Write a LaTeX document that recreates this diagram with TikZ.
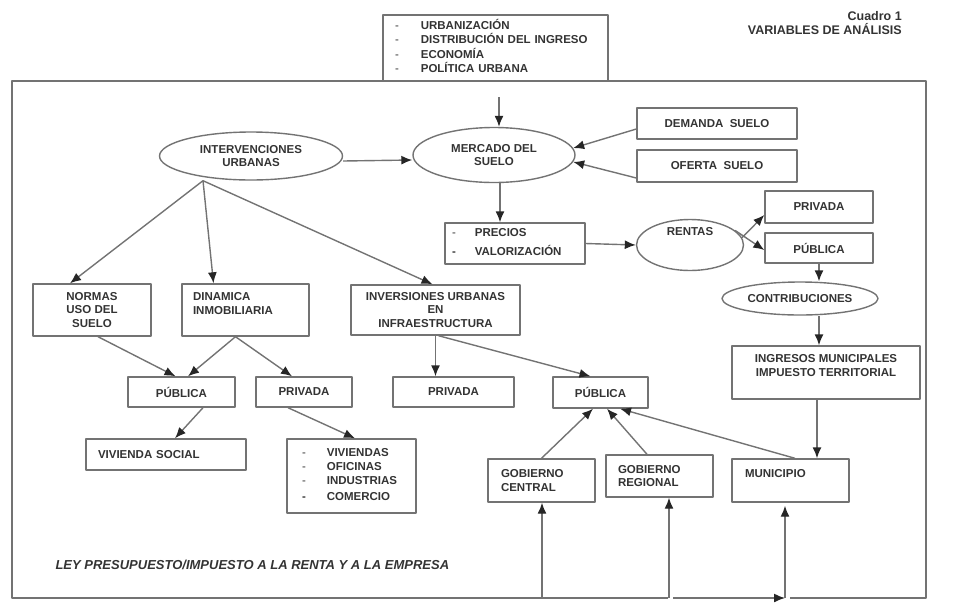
\documentclass[tikz,border=0pt]{standalone}
\usepackage{fontspec}
\setmainfont{Liberation Sans}
\usetikzlibrary{shapes.geometric,arrows.meta}
\begin{document}
\begin{tikzpicture}[x=1pt,y=-1pt,line join=round,
font=\fontsize{11.5}{13.7}\selectfont\bfseries,every node/.style={text=black!80},
linea/.style={draw=black!55,line width=1.4pt},
flecha/.style={linea,-{Latex[length=11pt,width=9pt,color=black!85]}},
caja/.style 2 args={linea,rectangle,minimum width=#1,minimum height=#2,inner sep=0pt,align=center},
ovalo/.style 2 args={linea,ellipse,minimum width=#1,minimum height=#2,inner sep=0pt,align=center},
izq/.style={text width=#1,align=left}]
\useasboundingbox (0,0) rectangle (961,606);
\node[anchor=east,inner sep=0pt,font=\fontsize{12.5}{15}\selectfont\bfseries] (cuadro) at (902,16) {Cuadro 1};
\node[anchor=east,inner sep=0pt,font=\fontsize{12.5}{15}\selectfont\bfseries] (titulo) at (902,29.5) {VARIABLES DE ANÁLISIS};
\draw[linea] (668,598) -- (12,598) -- (12,81) -- (926,81) -- (926,598) -- (790,598);
\path
(499,97) coordinate (entrada)
(673,598) coordinate (pie)
(542,598) coordinate (pieC)
(669,598) coordinate (pieR)
(785,598) coordinate (pieM);
\node[caja={225}{66},izq={201}] (factores) at (495.5,48) {\begin{tabular}{@{}l@{\hspace{22pt}}l@{}}\mdseries- & URBANIZACIÓN\\ \mdseries- & DISTRIBUCIÓN DEL INGRESO\\ \mdseries- & ECONOMÍA\\ \mdseries- & POLÍTICA URBANA\end{tabular}};
\node[ovalo={183}{48}] (interv) at (251,156) {INTERVENCIONES\\URBANAS};
\node[ovalo={162}{55}] (mercado) at (494,155) {MERCADO DEL\\SUELO};
\node[caja={160}{31}] (demanda) at (717,123.5) {DEMANDA\ \ SUELO};
\node[caja={160}{32}] (oferta) at (717,166) {OFERTA\ \ SUELO};
\node[caja={140}{41},izq={126}] (precios) at (515,243.5) {\begin{tabular}{@{}l@{\hspace{19pt}}l@{}}\mdseries- & PRECIOS\\[5pt] - & VALORIZACIÓN\end{tabular}};
\node[ovalo={107}{51}] (rentas) at (690,245) {\raisebox{10pt}[0pt][0pt]{RENTAS}};
\node[caja={108}{32}] (privR) at (819,207) {PRIVADA};
\node[caja={108}{30}] (pubR) at (819,248) {PÚBLICA};
\node[ovalo={156}{33}] (contrib) at (800,298.5) {CONTRIBUCIONES};
\node[caja={188}{53}] (ingresos) at (826,372.5) {INGRESOS MUNICIPALES\\IMPUESTO TERRITORIAL\\\mbox{}};
\node[caja={118}{52}] (normas) at (92,310) {NORMAS\\USO DEL\\SUELO};
\node[caja={127}{52},izq={105}] (dinamica) at (245.5,310) {DINAMICA\\INMOBILIARIA\\\mbox{}};
\node[caja={169}{50}] (inversion) at (435.5,310) {INVERSIONES URBANAS\\EN\\INFRAESTRUCTURA};
\node[caja={107}{30}] (pubA) at (181.5,392) {PÚBLICA};
\node[caja={96}{30}] (privA) at (304,392) {PRIVADA};
\node[caja={121}{30}] (privB) at (453.5,392) {PRIVADA};
\node[caja={95}{31}] (pubB) at (600.5,392.5) {PÚBLICA};
\node[caja={160}{31},izq={136}] (vivsoc) at (166,454.5) {VIVIENDA SOCIAL};
\node[caja={129}{74},izq={99}] (vivlist) at (351.5,476) {\begin{tabular}{@{}l@{\hspace{21pt}}l@{}}\mdseries- & VIVIENDAS\\ \mdseries- & OFICINAS\\ \mdseries- & INDUSTRIAS\\[3pt] - & COMERCIO\end{tabular}};
\node[caja={107}{43},izq={81}] (gobC) at (541.5,480.5) {GOBIERNO\\CENTRAL};
\node[caja={107}{42},izq={83}] (gobR) at (659.5,476) {GOBIERNO\\REGIONAL};
\node[caja={117}{43},izq={91}] (muni) at (790.5,480.5) {MUNICIPIO\\\mbox{}};
\node[anchor=west,font=\fontsize{13}{15}\selectfont\bfseries\itshape] (ley) at (52,565) {LEY PRESUPUESTO/IMPUESTO A LA RENTA Y A LA EMPRESA};
\coordinate (abanico) at ([xshift=-48pt]interv.south);
\draw[flecha] (entrada) -- (entrada |- mercado.north);
\draw[flecha] ([yshift=-5pt]interv.east) -- ([yshift=-5pt]mercado.west);
\draw[flecha] ([yshift=-5.5pt]demanda.west) -- (mercado.5);
\draw[flecha] ([yshift=-12pt]oferta.west) -- (mercado.-5);
\draw[flecha] ([xshift=6pt]mercado.south) -- ([xshift=-15pt]precios.north);
\draw[flecha] (precios.east) -- (rentas.west);
\draw[flecha] (rentas.8) -- ([yshift=-8pt]privR.west);
\draw[flecha] (rentas.18) -- ([yshift=-2pt]pubR.west);
\draw[flecha] (pubR.south) -- (pubR.south |- contrib.north);
\draw[flecha] (pubR.south |- contrib.south) -- (pubR.south |- ingresos.north);
\draw[flecha] ([xshift=-9pt]ingresos.south) -- ([xshift=26.5pt]muni.north);
\foreach \n/\s in {normas/-22,dinamica/-32,inversion/-3}
\draw[flecha] (abanico) -- ([xshift=\s pt]\n.north);
\draw[flecha] ([xshift=6pt]normas.south) -- ([xshift=-6pt]pubA.north);
\draw[flecha] ([xshift=-10pt]dinamica.south) -- ([xshift=6.5pt]pubA.north);
\draw[flecha] ([xshift=-10pt]dinamica.south) -- ([xshift=-12pt]privA.north);
\draw[flecha] (inversion.south) -- (inversion.south |- privB.north);
\draw[flecha] ([xshift=3pt]inversion.south) -- ([xshift=-10pt]pubB.north);
\draw[flecha] ([xshift=21.5pt]pubA.south) -- ([xshift=9pt]vivsoc.north);
\draw[flecha] ([xshift=-16pt]privA.south) -- ([xshift=3.5pt]vivlist.north);
\draw[flecha] (gobC.north) -- ([xshift=-7.5pt]pubB.south);
\draw[flecha] ([xshift=-12.5pt]gobR.north) -- ([xshift=6.5pt]pubB.south);
\draw[flecha] ([xshift=4.5pt]muni.north) -- ([xshift=19.5pt]pubB.south);
\draw[flecha] (pie) -- (pieM);
\draw[flecha] (pieC) -- (pieC |- gobC.south);
\draw[flecha] (pieR) -- (pieR |- gobR.south);
\draw[flecha] (pieM) -- ([yshift=-3pt]pieM |- muni.south);
\end{tikzpicture}
\end{document}
